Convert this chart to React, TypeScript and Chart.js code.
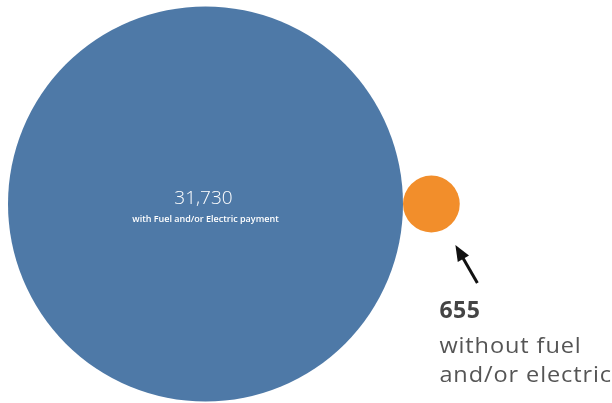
import React, { useEffect, useRef } from "react";
import { Chart, registerables } from "chart.js";

Chart.register(...registerables);

const categories = ["with Fuel and/or Electric payment", "without fuel and/or electric"];
const values = [31730, 655];
const mainLabel = "with Fuel and/or Electric payment";
const sideLabelLines = ["without fuel", "and/or electric"];
const colors = ["#4E79A7", "#F28E2B"];

const BASE_RADIUS = 197.5;

const fmt = (v: number) => v.toLocaleString("en-US");

export default function App() {
  const ref = useRef<HTMLCanvasElement | null>(null);

  useEffect(() => {
    if (!ref.current) return;
    const maxV = Math.max(...values);
    const radii = values.map((v) => BASE_RADIUS * Math.sqrt(v / maxV));
    const xs = [0, radii[0] + radii[1]];

    const labelPlugin = {
      id: "labels",
      afterDatasetsDraw(chart: any) {
        const ctx = chart.ctx as CanvasRenderingContext2D;
        const big = chart.getDatasetMeta(0).data[0];
        const small = chart.getDatasetMeta(1).data[0];
        ctx.save();
        // main bubble label
        ctx.fillStyle = "#ffffff";
        ctx.textAlign = "center";
        ctx.textBaseline = "alphabetic";
        ctx.font = "300 19px 'Open Sans'";
        ctx.fillText(fmt(values[0]), big.x - 2, big.y);
        ctx.font = "600 9px 'Open Sans'";
        ctx.fillText(mainLabel, big.x, big.y + 18);

        // arrow
        const tipX = small.x + 24;
        const tipY = small.y + 41;
        const tailX = small.x + 46;
        const tailY = small.y + 79;
        const ang = Math.atan2(tipY - tailY, tipX - tailX);
        const headLen = 16;
        const headW = 6.5;
        ctx.strokeStyle = "#111111";
        ctx.fillStyle = "#111111";
        ctx.lineWidth = 3;
        ctx.beginPath();
        ctx.moveTo(tailX, tailY);
        ctx.lineTo(tipX - Math.cos(ang) * (headLen - 2), tipY - Math.sin(ang) * (headLen - 2));
        ctx.stroke();
        const bx = tipX - Math.cos(ang) * headLen;
        const by = tipY - Math.sin(ang) * headLen;
        ctx.beginPath();
        ctx.moveTo(tipX, tipY);
        ctx.lineTo(bx + Math.sin(ang) * headW, by - Math.cos(ang) * headW);
        ctx.lineTo(bx - Math.sin(ang) * headW, by + Math.cos(ang) * headW);
        ctx.closePath();
        ctx.fill();

        // side annotation
        ctx.textAlign = "left";
        const tx = small.x + 8;
        ctx.fillStyle = "#444444";
        ctx.font = "700 23px 'Open Sans'";
        (ctx as any).letterSpacing = "0.5px";
        ctx.fillText(fmt(values[1]), tx, small.y + 114);
        ctx.fillStyle = "#555555";
        ctx.font = "400 21px 'Open Sans'";
        (ctx as any).letterSpacing = "0.8px";
        ctx.save();
        ctx.translate(tx, 0);
        ctx.scale(1.12, 1);
        ctx.fillText(sideLabelLines[0], 0, small.y + 149);
        ctx.fillText(sideLabelLines[1], 0, small.y + 178);
        ctx.restore();
        ctx.restore();
      },
    };

    const chart = new Chart(ref.current, {
      type: "bubble",
      data: {
        datasets: values.map((v, i) => ({
          label: categories[i],
          data: [{ x: xs[i], y: 0, r: radii[i] }],
          backgroundColor: colors[i],
          hoverBackgroundColor: colors[i],
          borderWidth: 0,
          hoverBorderWidth: 0,
          clip: false as any,
          order: i,
        })),
      },
      options: {
        animation: false,
        responsive: false,
        events: [],
        layout: { padding: 0, autoPadding: false },
        plugins: { legend: { display: false }, tooltip: { enabled: false } },
        scales: {
          x: { type: "linear", display: false, min: -205.5, max: 406.5 },
          y: { type: "linear", display: false, min: -199, max: 204 },
        },
      },
      plugins: [labelPlugin],
    });
    return () => chart.destroy();
  }, []);

  return (
    <div style={{ position: "fixed", left: 0, top: 0, width: 612, height: 403, background: "#fff" }}>
      <canvas ref={ref} width={612} height={403} />
    </div>
  );
}
